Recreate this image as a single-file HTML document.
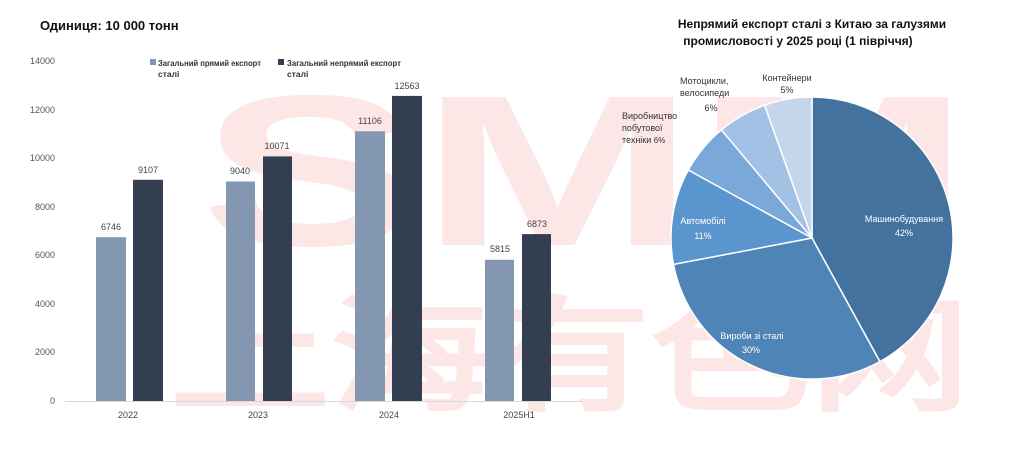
<!DOCTYPE html>
<html><head><meta charset="utf-8"><style>
html,body{margin:0;padding:0;background:#fff;width:1024px;height:475px;overflow:hidden}
svg{display:block}
text{font-family:"Liberation Sans","DejaVu Sans",sans-serif}
</style></head><body>
<svg width="1024" height="475" viewBox="0 0 1024 475">
<!-- watermark -->
<g fill="#fde6e6">
<text x="200" y="245" font-size="215" font-weight="bold" textLength="770" lengthAdjust="spacingAndGlyphs">SMM</text>
<text x="170" y="400" font-size="125" font-weight="bold" font-family="Noto Sans CJK SC, sans-serif" textLength="800" lengthAdjust="spacingAndGlyphs">上海有色网</text>
</g>
<text x="40" y="30" font-size="13" font-weight="bold" fill="#111">Одиниця: 10 000 тонн</text>
<!-- y axis labels -->
<g font-size="9" fill="#555" text-anchor="end">
<text x="55" y="404">0</text>
<text x="55" y="355">2000</text>
<text x="55" y="307">4000</text>
<text x="55" y="258">6000</text>
<text x="55" y="210">8000</text>
<text x="55" y="161">10000</text>
<text x="55" y="113">12000</text>
<text x="55" y="64">14000</text>
</g>
<line x1="65" y1="401.5" x2="583" y2="401.5" stroke="#d9d9d9" stroke-width="1"/>
<!-- legend -->
<rect x="150" y="59" width="6" height="6" fill="#8497b0"/>
<text x="158" y="66" font-size="8.5" font-weight="bold" fill="#333" textLength="103" lengthAdjust="spacingAndGlyphs">Загальний прямий експорт</text>
<text x="158" y="77" font-size="8.5" font-weight="bold" fill="#333">сталі</text>
<rect x="278" y="59" width="6" height="6" fill="#333f50"/>
<text x="287" y="66" font-size="8.5" font-weight="bold" fill="#333" textLength="114" lengthAdjust="spacingAndGlyphs">Загальний непрямий експорт</text>
<text x="287" y="77" font-size="8.5" font-weight="bold" fill="#333">сталі</text>
<!-- bars -->
<g fill="#8497b0">
<rect x="96" y="237.2" width="30" height="163.8"/>
<rect x="226" y="181.5" width="29" height="219.5"/>
<rect x="355" y="131.3" width="30" height="269.7"/>
<rect x="485" y="259.8" width="29" height="141.2"/>
</g>
<g fill="#333f50">
<rect x="133" y="179.8" width="30" height="221.2"/>
<rect x="263" y="156.4" width="29" height="244.6"/>
<rect x="392" y="95.9" width="30" height="305.1"/>
<rect x="522" y="234.1" width="29" height="166.9"/>
</g>
<g font-size="9" fill="#444" text-anchor="middle">
<text x="111" y="230">6746</text>
<text x="148" y="173">9107</text>
<text x="240" y="174">9040</text>
<text x="277" y="149">10071</text>
<text x="370" y="124">11106</text>
<text x="407" y="89">12563</text>
<text x="500" y="252">5815</text>
<text x="537" y="227">6873</text>
<text x="128" y="418">2022</text>
<text x="258" y="418">2023</text>
<text x="389" y="418">2024</text>
<text x="519" y="418">2025H1</text>
</g>
<!-- pie -->
<text x="812" y="28" font-size="12" font-weight="bold" fill="#111" text-anchor="middle">Непрямий експорт сталі з Китаю за галузями</text>
<text x="798" y="45" font-size="12" font-weight="bold" fill="#111" text-anchor="middle">промисловості у 2025 році (1 півріччя)</text>
<g stroke="#fff" stroke-width="1.5">
<path d="M812,238 L812,97 A141,141 0 0 1 879.9,361.6 Z" fill="#44729e"/>
<path d="M812,238 L879.9,361.6 A141,141 0 0 1 673.5,264.4 Z" fill="#4e85b6"/>
<path d="M812,238 L673.5,264.4 A141,141 0 0 1 688.3,170.0 Z" fill="#5a95cd"/>
<path d="M812,238 L688.3,170.0 A141,141 0 0 1 721.4,129.8 Z" fill="#7aa8d8"/>
<path d="M812,238 L721.4,129.8 A141,141 0 0 1 764.6,105.2 Z" fill="#a3c1e5"/>
<path d="M812,238 L764.6,105.2 A141,141 0 0 1 812,97 Z" fill="#c5d5eb"/>
</g>
<g font-size="9" text-anchor="middle" fill="#fff">
<text x="904" y="222">Машинобудування</text>
<text x="904" y="236">42%</text>
<text x="752" y="339">Вироби зі сталі</text>
<text x="751" y="353">30%</text>
<text x="703" y="224">Автомобілі</text>
<text x="703" y="239">11%</text>
</g>
<g font-size="9" fill="#333">
<text x="622" y="119">Виробництво</text>
<text x="622" y="131">побутової</text>
<text x="622" y="143">техніки <tspan font-size="8">6%</tspan></text>
<text x="680" y="84">Мотоцикли,</text>
<text x="680" y="96">велосипеди</text>
<text x="711" y="111" text-anchor="middle">6%</text>
<text x="787" y="81" text-anchor="middle">Контейнери</text>
<text x="787" y="93" text-anchor="middle">5%</text>
</g>
</svg>
</body></html>
